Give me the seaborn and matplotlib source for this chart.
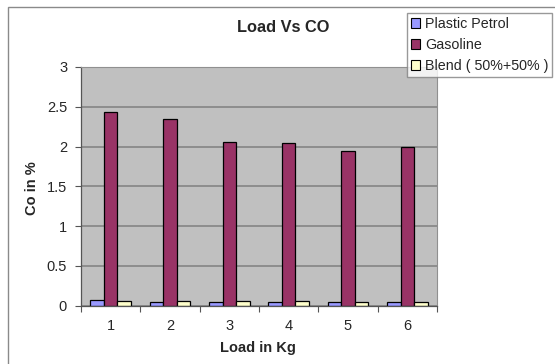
import matplotlib
matplotlib.use("Agg")
import matplotlib.pyplot as plt
import matplotlib.patches as mpatches
import pandas as pd
import seaborn as sns

# Load (kg) and CO emission (%) for each fuel
loads = ["1", "2", "3", "4", "5", "6"]
series_names = ["Plastic Petrol", "Gasoline", "Blend ( 50%+50% )"]
plastic_petrol = [0.07, 0.05, 0.05, 0.05, 0.05, 0.05]
gasoline = [2.43, 2.35, 2.06, 2.04, 1.94, 1.99]
blend = [0.06, 0.06, 0.06, 0.06, 0.05, 0.05]
y_ticks = [0, 0.5, 1, 1.5, 2, 2.5, 3]
y_tick_labels = ["0", "0.5", "1", "1.5", "2", "2.5", "3"]

colors = ["#9999FF", "#993366", "#FFFFCC"]

rows = []
for name, vals in zip(series_names, [plastic_petrol, gasoline, blend]):
    for load, v in zip(loads, vals):
        rows.append({"Load": load, "Fuel": name, "CO": v})
df = pd.DataFrame(rows)

sns.set_style("white")
plt.rcParams["font.family"] = ["Liberation Sans", "DejaVu Sans"]

W, H = 555, 364
fig = plt.figure(figsize=(W / 100, H / 100), dpi=100)
ax = fig.add_axes([81 / W, 1 - 305.5 / H, (437 - 81) / W, (305.5 - 67) / H])
ax.set_facecolor("#C0C0C0")

sns.barplot(data=df, x="Load", y="CO", hue="Fuel", order=loads,
            hue_order=series_names, palette=colors, width=0.68,
            edgecolor="black", linewidth=0.9, saturation=1, ax=ax,
            legend=False, errorbar=None)

ax.set_xlim(-0.5, len(loads) - 0.5)
ax.set_ylim(0, 3)
ax.set_yticks(y_ticks)
ax.set_yticklabels(y_tick_labels, fontsize=10.5)
ax.yaxis.grid(True, color="#808080", linewidth=1.1)
ax.set_axisbelow(True)

# category labels centred, tick marks on category boundaries
ax.set_xticks(range(len(loads)))
ax.set_xticklabels(loads, fontsize=10.5)
ax.set_xticks([i - 0.5 for i in range(len(loads) + 1)], minor=True)
ax.tick_params(axis="x", which="major", length=0, pad=10)
ax.tick_params(axis="x", which="minor", length=4, width=0.8, color="#555555",
               direction="out", bottom=True)
ax.tick_params(axis="y", length=4, width=0.8, color="#555555",
               direction="out", pad=6, left=True)

for side in ["left", "bottom"]:
    ax.spines[side].set_color("#555555")
    ax.spines[side].set_linewidth(0.9)
for side in ["top", "right"]:
    ax.spines[side].set_color("#909090")
    ax.spines[side].set_linewidth(0.8)

ax.set_xlabel("Load in Kg", fontsize=10.5, fontweight="bold", va="center")
ax.set_ylabel("Co in %", fontsize=10.5, fontweight="bold", va="center")
ax.xaxis.set_label_coords((258 - 81) / (437 - 81), -(348 - 305.5) / (305.5 - 67))
ax.yaxis.set_label_coords((32 - 81) / (437 - 81), (305.5 - 188) / (305.5 - 67))

fig.text(283 / W, 1 - 28 / H, "Load Vs CO", fontsize=11.8, fontweight="bold",
         ha="center", va="center")

handles = [mpatches.Patch(facecolor=c, edgecolor="black", linewidth=0.8)
           for c in colors]
leg = fig.legend(handles, series_names, loc="upper left",
                 bbox_to_anchor=(407 / W, 1 - 13.3 / H), fontsize=10.3,
                 frameon=True, fancybox=False, shadow=False,
                 handlelength=0.63, handleheight=0.63, handletextpad=0.4,
                 labelspacing=0.5, borderpad=0.25, borderaxespad=0)
leg.get_frame().set_edgecolor("#808080")
leg.get_frame().set_linewidth(1)
leg.get_frame().set_facecolor("white")

# outer chart border
fig.patches.append(mpatches.Rectangle((8 / W, -0.1), 1.2, 1 - 7 / H + 0.1,
                                      transform=fig.transFigure, fill=False,
                                      edgecolor="#8a8a8a", linewidth=1))

fig.savefig("out.png", dpi=100)
